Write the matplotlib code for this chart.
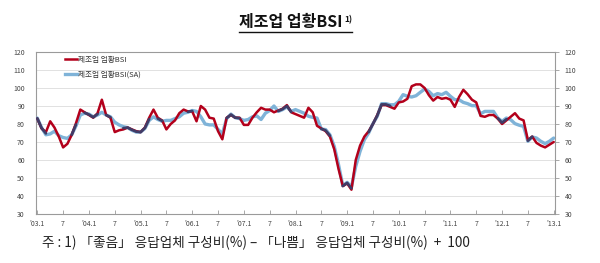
import numpy as np
import matplotlib
matplotlib.use("Agg")
import matplotlib.pyplot as plt
from matplotlib.lines import Line2D

plt.rcParams['font.family'] = ['Noto Sans CJK KR', 'DejaVu Sans']

# Monthly data, 2003.1 - 2013.1
bsi = [83, 77.5, 75.5, 81.5, 78, 73, 67, 69, 74, 80.5, 88, 86.5,
       85, 83.5, 86, 93.5, 85, 83.5, 75.5, 76.5, 77, 78, 77, 76,
       75.5, 78, 83.5, 88, 83.5, 82, 77, 80, 82, 86, 88, 87,
       87, 81.5, 90, 88, 83.5, 83, 76, 71.5, 83.5, 85, 83.5, 83.5,
       79.5, 79.5, 83.5, 86.5, 89, 88, 88, 86.5, 87.5, 88.5, 90.5, 86.5,
       85.5, 84.5, 83.5, 89, 86.5, 79, 77.5, 76, 73, 66, 55, 45.5,
       47, 43.5, 60, 68, 73, 76, 80, 85, 90.5, 90.5, 89.5, 88.5,
       92, 92.5, 94, 101, 102, 102, 100, 96, 93, 95, 94, 94.5,
       93.5, 89.5, 95, 99, 96.5, 93.5, 92, 84.5, 84, 85, 85, 83,
       80, 82, 84, 86, 83, 82, 71, 73, 69.5, 68, 67, 68.5,
       70]
bsi_sa = [83.3, 78, 74, 74.5, 76, 73.5, 72.5, 72, 74, 79, 85, 86,
          85.5, 84, 85, 86.5, 85, 84, 81, 79.5, 78.5, 78, 76.5, 75.5,
          75.5, 77.5, 82, 84, 82.5, 81.5, 82, 82, 83, 84, 86, 86.5,
          87.5, 87, 84, 80, 79.5, 79.5, 77, 74.5, 83, 85.5, 83.5, 83,
          82, 82.5, 84, 84.5, 82.5, 86, 87.5, 90, 87, 88, 89.5, 87,
          88, 87, 86, 84.3, 83.7, 83.3, 77.2, 76.9, 74, 67.6, 57.4, 45.7,
          47.6, 45, 56.5, 64.8, 71.3, 75, 80.2, 84.3, 91.3, 91.3, 90.7, 90.7,
          92.6, 96.3, 95.4, 95, 95.7, 97.6, 99.4, 98.1, 95.7, 96.9, 96.3, 97.6,
          95.4, 93.5, 93.5, 92, 91.3, 90.2, 90.2, 85.7, 87, 87, 87, 83.3,
          81.5, 83.3, 82.4, 80.2, 79.3, 78.7, 70.4, 72.8, 72.2, 70.4, 69.1, 70.4,
          72.2]
tick_labels = ["'03.1", "7", "'04.1", "7", "'05.1", "7", "'06.1", "7", "'07.1", "7",
               "'08.1", "7", "'09.1", "7", "'10.1", "7", "'11.1", "7", "'12.1", "7", "'13.1"]
yticks = [30, 40, 50, 60, 70, 80, 90, 100, 110, 120]
label_red = "제조업 업황BSI"
label_sa = "제조업 업황BSI(SA)"

red_c = '#B3001B'
blue_c = '#7FB3D8'
navy_c = '#3F3D68'

x = np.arange(len(bsi))
r = np.array(bsi, dtype=float)
s = np.array(bsi_sa, dtype=float)

fig = plt.figure(figsize=(6.0, 2.63), dpi=100)
ax = fig.add_axes([0.06, 0.1863, 0.865, 0.616])

ax.plot(x, s, color=blue_c, lw=2.4, solid_capstyle='round', label=label_sa, zorder=3)
ax.plot(x, r, color=red_c, lw=1.8, solid_capstyle='round', label=label_red, zorder=4)
close = np.abs(r - s) <= 1.5
ov = np.where(close, r * 0.5 + s * 0.5, np.nan)
ax.plot(x, ov, color=navy_c, lw=1.9, solid_capstyle='round', zorder=5)

ax.set_xlim(-0.3, 120.3)
ax.set_ylim(30, 120)
ax.set_yticks(yticks)
ax.set_xticks(np.arange(0, 121, 6))
ax.set_xticklabels(tick_labels)
ax.grid(axis='y', color='#dcdcdc', lw=0.6)
ax.set_axisbelow(True)
for sp in ax.spines.values():
    sp.set_color('#9a9a9a')
    sp.set_linewidth(0.8)
ax.tick_params(axis='x', direction='in', length=3, width=0.6, color='#9a9a9a',
               labelsize=5, labelcolor='#444444', pad=4)
ax.tick_params(axis='y', length=0, labelsize=5, labelcolor='#444444', pad=8)

ax2 = ax.twinx()
ax2.set_ylim(30, 120)
ax2.set_yticks(yticks)
ax2.tick_params(axis='y', direction='out', length=3, width=0.6, color='#9a9a9a',
                labelsize=5, labelcolor='#444444', pad=4)
for sp in ax2.spines.values():
    sp.set_visible(False)

handles = [Line2D([], [], color=red_c, lw=1.8), Line2D([], [], color=blue_c, lw=2.4)]
leg = ax.legend(handles, [label_red, label_sa], loc='upper left', bbox_to_anchor=(0.045, 1.01),
                frameon=False, fontsize=5.5, handlelength=1.6, handletextpad=0.2,
                labelspacing=0.9, borderaxespad=0.3)
for t in leg.get_texts():
    t.set_color('#333333')

# Title
title = fig.text(0.485, 0.918, "제조업 업황BSI", ha='center', va='center',
                 fontsize=11.5, fontweight='bold', color='#111111')
fig.canvas.draw()
bb = title.get_window_extent().transformed(fig.transFigure.inverted())
sup = fig.text(bb.x1 + 0.002, bb.y1 - 0.005, "1)", ha='left', va='top', fontsize=6,
               fontweight='bold', color='#111111')
fig.canvas.draw()
bb2 = sup.get_window_extent().transformed(fig.transFigure.inverted())
fig.add_artist(Line2D([bb.x0, bb2.x1], [bb.y0 - 0.01, bb.y0 - 0.01], color='#111111',
                      lw=1.0, transform=fig.transFigure))

# Footnote
fig.text(0.07, 0.075, "주 : 1) 「좋음」 응답업체 구성비(%) – 「나쁨」 응답업체 구성비(%)  +  100",
         ha='left', va='center', fontsize=9.8, color='#222222')

fig.savefig('out.png', dpi=100)
